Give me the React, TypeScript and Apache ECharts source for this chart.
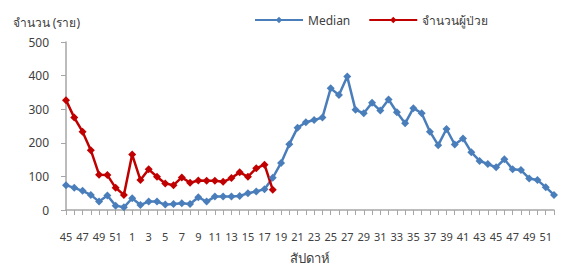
import React, { useEffect, useRef } from "react";
import * as echarts from "echarts";

const weeks: string[] = [
  "45", "46", "47", "48", "49", "50", "51", "52",
  ...Array.from({ length: 52 }, (_, i) => String(i + 1)),
];

const median: number[] = [
  74, 66, 57, 45, 25, 43, 13, 8, 35, 15,
  25, 25, 16, 18, 20, 18, 38, 25, 40, 40,
  40, 42, 50, 55, 62, 96, 140, 196, 245, 261,
  268, 275, 362, 342, 397, 298, 288, 319, 296, 329,
  291, 258, 303, 288, 233, 193, 241, 195, 213, 172,
  146, 137, 127, 151, 121, 119, 94, 89, 68, 45,
];

const patients: (number | null)[] = [
  327, 275, 233, 178, 105, 104, 66, 45, 165, 89,
  121, 99, 79, 74, 97, 81, 88, 87, 87, 84,
  95, 112, 99, 124, 135, 60,
];

const yTicks = { min: 0, max: 500, interval: 100 };

const FONT = "'Noto Sans', 'DejaVu Sans', sans-serif";

export default function App() {
  const ref = useRef<HTMLDivElement>(null);
  useEffect(() => {
    if (!ref.current) return;
    const chart = echarts.init(ref.current, null, { renderer: "svg" });
    chart.setOption({
      animation: false,
      textStyle: { fontFamily: FONT },
      legend: {
        top: 9,
        left: 249,
        itemWidth: 48,
        itemHeight: 8,
        itemGap: 18,
        itemStyle: { borderWidth: 0 },
        textStyle: { fontSize: 12, color: "#404040", fontFamily: FONT },
        data: ["Median", "จำนวนผู้ป่วย"],
      },
      grid: { left: 66, right: 12, top: 42, bottom: 58, outerBoundsMode: "none", containLabel: false },
      xAxis: {
        type: "category",
        data: weeks,
        boundaryGap: false,
        name: "สัปดาห์",
        nameLocation: "middle",
        nameGap: 41,
        nameTextStyle: { fontSize: 13, color: "#404040", fontFamily: FONT },
        axisLine: { lineStyle: { color: "#A6A6A6", width: 1.5 } },
        axisTick: { show: true, interval: 0, length: 5, lineStyle: { color: "#A6A6A6" } },
        axisLabel: { interval: 1, fontSize: 11, color: "#404040", margin: 21, fontFamily: FONT },
        splitLine: { show: false },
      },
      yAxis: {
        type: "value",
        min: yTicks.min,
        max: yTicks.max,
        interval: yTicks.interval,
        name: "จำนวน (ราย)",
        nameLocation: "end",
        nameGap: 14,
        nameTextStyle: { fontSize: 12, color: "#404040", align: "right", padding: [0, -14, 0, 0], fontFamily: FONT },
        axisLine: { show: true, lineStyle: { color: "#A6A6A6", width: 1.5 } },
        axisTick: { show: true, length: 5, lineStyle: { color: "#A6A6A6" } },
        axisLabel: { fontSize: 12, color: "#404040", margin: 17, fontFamily: FONT },
        splitLine: { show: false },
      },
      series: [
        {
          name: "Median",
          type: "line",
          data: median,
          symbol: "diamond",
          symbolSize: 8,
          showAllSymbol: true,
          itemStyle: { color: "#4A7EBB" },
          lineStyle: { color: "#4A7EBB", width: 2.5 },
        },
        {
          name: "จำนวนผู้ป่วย",
          type: "line",
          data: patients,
          symbol: "diamond",
          symbolSize: 8,
          showAllSymbol: true,
          itemStyle: { color: "#C00000" },
          lineStyle: { color: "#C00000", width: 2.5 },
        },
      ],
    });
    return () => chart.dispose();
  }, []);
  return <div ref={ref} style={{ width: 566, height: 268, position: "absolute", left: 0, top: 0 }} />;
}
